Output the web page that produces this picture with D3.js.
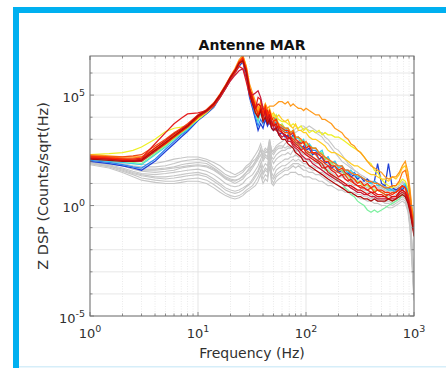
<!DOCTYPE html>
<html><head><meta charset="utf-8">
<script src="https://cdn.jsdelivr.net/npm/d3@7"></script>
<style>body{margin:0;background:#fff}svg{display:block}text{font-family:"DejaVu Sans",sans-serif}</style>
</head><body><svg id="c" width="446" height="370"></svg>
<script>
// Frequencies (Hz)
const freqs = [1,1.5,2,2.5,3, 4,5,6,7,8, 10,12,14,16,18, 20,22,24,26,28, 30,32,34,36,38, 40,42,44,46,48, 50,53,56,60,64, 68,72,76,80,85, 90,95,100,107,115, 123,132,141,150,160, 172,185,200,215,230, 245,260,280,300,320, 345,370,400,430,460, 500,540,580,630,680, 730,780,830,880,920, 950,980,1000];
// log10 of spectral density, grey records
const greySeries = [
 [2.05,2.0,1.9,1.8,1.75, 1.75,1.8,1.9,2.0,2.05, 2.1,2.0,1.8,1.6,1.4, 1.3,1.3,1.4,1.5,1.7, 1.8,2.0,2.1,2.3,2.5, 2.3,2.5,2.4,3.0,2.4, 2.3,2.5,2.6,2.6,2.8, 2.9,3.1,3.2,3.3,3.4, 3.4,3.5,3.5,3.4,3.4, 3.3,3.2,3.1,2.9,2.8, 2.6,2.4,2.2,2.0,1.9, 1.8,1.7,1.6,1.5,1.4, 1.3,1.2,1.1,1.1,1.0, 0.9,0.9,0.8,0.8,0.8, 0.9,1.0,1.0,0.6,-0.2, -1.5,-2.8,-3.8],
 [2.0,1.9,1.8,1.65,1.55, 1.5,1.55,1.6,1.7,1.75, 1.8,1.75,1.6,1.4,1.2, 1.1,1.0,1.1,1.2,1.4, 1.5,1.7,1.9,2.1,2.3, 2.0,2.2,2.1,2.7,2.1, 1.9,2.1,2.2,2.3,2.3, 2.4,2.3,2.5,2.4,2.5, 2.4,2.3,2.3,2.2,2.2, 2.1,2.0,1.9,1.8,1.7, 1.6,1.5,1.5,1.4,1.3, 1.3,1.2,1.1,1.0,1.0, 0.9,0.8,0.8,0.7,0.7, 0.6,0.6,0.5,0.5,0.6, 0.7,0.8,0.7,0.3,-0.5, -1.8,-3.0,-4.0],
 [1.95,1.8,1.65,1.5,1.4, 1.3,1.3,1.35,1.4,1.45, 1.5,1.4,1.2,1.0,0.8, 0.7,0.65,0.7,0.8,0.9, 1.0,1.2,1.4,1.6,1.9, 1.5,1.7,1.6,2.4,1.5, 1.3,1.6,1.7,1.8,1.8, 1.9,2.0,2.1,2.0,2.1, 2.0,1.9,1.9,1.8,1.8, 1.7,1.7,1.6,1.5,1.4, 1.3,1.3,1.2,1.1,1.0, 1.0,0.9,0.8,0.7,0.7, 0.6,0.6,0.5,0.4,0.4, 0.3,0.3,0.3,0.2,0.3, 0.4,0.5,0.4,0.0,-0.8, -2.0,-3.2,-4.1],
 [1.9,1.75,1.55,1.4,1.25, 1.15,1.1,1.1,1.15,1.2, 1.25,1.15,0.95,0.75,0.55, 0.45,0.4,0.45,0.55,0.7, 0.8,0.9,1.1,1.3,1.6, 1.2,1.4,1.3,2.1,1.2, 1.0,1.3,1.4,1.5,1.6, 1.6,1.7,1.8,1.7,1.8, 1.7,1.6,1.6,1.5,1.5, 1.4,1.4,1.3,1.2,1.1, 1.0,1.0,0.9,0.8,0.8, 0.7,0.6,0.6,0.5,0.5, 0.4,0.4,0.3,0.3,0.2, 0.2,0.1,0.1,0.0,0.1, 0.2,0.3,0.2,-0.2,-1.0, -2.2,-3.4,-4.2],
 [2.05,2.0,1.95,1.9,1.85, 1.9,2.0,2.1,2.15,2.2, 2.2,2.1,1.95,1.8,1.6, 1.5,1.4,1.5,1.6,1.8, 1.9,2.1,2.3,2.5,2.8, 2.4,2.6,2.5,3.0,2.5, 2.4,2.6,2.7,2.7,2.6, 2.7,2.6,2.7,2.5,2.5, 2.4,2.4,2.3,2.3,2.2, 2.1,2.1,2.0,1.9,1.8, 1.7,1.6,1.5,1.5,1.4, 1.4,1.3,1.2,1.1,1.1, 1.0,0.9,0.9,0.8,0.8, 0.7,0.7,0.6,0.7,0.7, 0.8,0.9,0.8,0.4,-0.3, -1.6,-2.9,-3.9],
 [1.95,1.85,1.7,1.55,1.45, 1.4,1.45,1.5,1.55,1.6, 1.65,1.55,1.4,1.2,1.0, 0.9,0.85,0.9,1.0,1.2, 1.3,1.4,1.6,1.8,2.1, 1.7,1.9,1.8,2.5,1.8, 1.6,1.8,1.9,2.0,2.1, 2.1,2.2,2.2,2.3,2.2, 2.2,2.1,2.1,2.0,2.0, 1.9,1.9,1.8,1.7,1.6, 1.5,1.4,1.3,1.3,1.2, 1.1,1.0,0.9,0.9,0.8, 0.7,0.7,0.6,0.6,0.5, 0.5,0.4,0.4,0.4,0.5, 0.6,0.7,0.6,0.2,-0.6, -1.9,-3.1,-4.0],
 [1.85,1.7,1.5,1.3,1.15, 1.05,1.0,1.0,1.05,1.1, 1.1,1.0,0.8,0.6,0.45, 0.35,0.3,0.35,0.45,0.6, 0.7,0.8,0.9,1.1,1.4, 1.0,1.2,1.1,1.8,1.0, 0.9,1.1,1.2,1.3,1.4, 1.4,1.5,1.5,1.5,1.4, 1.4,1.3,1.3,1.3,1.2, 1.2,1.1,1.1,1.0,0.9, 0.9,0.8,0.7,0.7,0.6, 0.6,0.5,0.5,0.4,0.3, 0.3,0.2,0.2,0.1,0.1, 0.0,0.0,-0.1,-0.1,0.0, 0.1,0.2,0.1,-0.3,-1.1, -2.4,-3.6,-4.3],
 [2.0,1.95,1.85,1.75,1.65, 1.65,1.7,1.75,1.85,1.9, 1.95,1.9,1.7,1.5,1.3, 1.2,1.15,1.2,1.35,1.5, 1.7,1.8,2.0,2.2,2.5, 2.1,2.3,2.2,2.8,2.2, 2.1,2.3,2.4,2.5,2.5, 2.6,2.6,2.8,2.7,2.8, 2.7,2.6,2.6,2.5,2.4, 2.3,2.3,2.1,2.0,1.9, 1.8,1.7,1.6,1.5,1.5, 1.4,1.3,1.3,1.2,1.1, 1.1,1.0,1.0,0.9,0.9, 0.8,0.8,0.7,0.7,0.8, 0.9,1.1,1.0,0.5,-0.2, -1.5,-2.7,-3.7],
 [1.9,1.8,1.6,1.45,1.35, 1.25,1.2,1.25,1.3,1.35, 1.4,1.3,1.1,0.9,0.7, 0.6,0.55,0.6,0.7,0.85, 0.95,1.1,1.3,1.5,1.8, 1.4,1.6,1.5,2.2,1.3, 1.2,1.4,1.5,1.6,1.7, 1.7,1.8,1.9,1.9,1.9, 1.8,1.8,1.7,1.7,1.6, 1.6,1.5,1.5,1.4,1.3, 1.2,1.1,1.1,1.0,0.9, 0.9,0.8,0.7,0.6,0.6, 0.5,0.5,0.4,0.3,0.3, 0.2,0.2,0.2,0.1,0.2, 0.3,0.4,0.3,-0.1,-0.9, -2.1,-3.2,-4.0],
 [2.0,1.9,1.8,1.7,1.6, 1.6,1.65,1.7,1.75,1.8, 1.85,1.8,1.65,1.45,1.25, 1.15,1.1,1.2,1.3,1.5, 1.6,1.8,2.0,2.2,2.6, 2.2,2.4,2.4,2.9,2.5, 2.5,2.7,2.8,2.9,3.0, 3.1,3.3,3.3,3.5,3.5, 3.6,3.6,3.5,3.6,3.5, 3.4,3.3,3.3,3.1,3.0, 2.8,2.6,2.5,2.3,2.1, 1.9,1.8,1.6,1.5,1.3, 1.2,1.1,1.0,0.9,0.8, 0.8,0.7,0.7,0.6,0.7, 0.8,0.9,0.8,0.4,-0.3, -1.6,-2.9,-3.9]
];
// log10 of spectral density, coloured records
const colorSeries = [
 [2.0,1.9,1.8,1.7,1.6, 2.0,2.45,2.8,3.1,3.35, 3.85,4.15,4.45,4.9,5.3, 5.7,6.0,6.3,6.5,5.8, 4.9,4.4,3.9,3.4,3.7, 3.5,3.9,3.6,3.8,3.5, 3.4,3.6,3.2,3.3,3.1, 3.2,3.0,3.2,2.8,2.9, 2.6,2.7,2.5,2.6,2.3, 2.4,2.1,2.2,1.9,2.0, 1.7,1.8,1.5,1.6,1.4, 1.5,1.3,1.4,1.2,1.3, 1.1,1.2,1.0,1.1,1.9, 1.0,0.9,1.9,0.8,0.7, 0.8,0.7,0.9,0.6,0.3, -0.3,-0.8,-1.1],
 [2.05,1.95,1.85,1.75,1.7, 2.1,2.55,2.9,3.2,3.4, 3.9,4.2,4.5,4.95,5.35, 5.75,6.05,6.4,6.6,5.9, 5.0,4.5,4.0,3.6,3.9, 3.7,4.1,3.8,4.0,3.7, 3.6,3.8,3.4,3.5,3.3, 3.4,3.2,3.3,3.0,3.1, 2.8,2.9,2.6,2.7,2.5, 2.5,2.3,2.4,2.1,2.2, 1.9,2.0,1.7,1.8,1.6, 1.6,1.4,1.5,1.3,1.3, 1.2,1.1,1.0,1.1,1.0, 0.9,0.8,0.8,0.7,0.6, 0.7,0.8,0.9,0.5,0.1, -0.3,-0.7,-1.0],
 [2.1,2.0,1.95,1.9,1.85, 2.3,2.65,3.0,3.25,3.45, 3.9,4.2,4.5,5.0,5.4, 5.8,6.1,6.5,6.7,6.0, 5.1,4.6,4.2,3.8,4.2, 3.9,4.3,4.0,4.2,3.8, 3.8,4.0,3.5,3.6,3.4, 3.5,3.3,3.4,3.0,3.1, 2.9,3.0,2.7,2.8,2.6, 2.6,2.4,2.5,2.1,2.2, 1.9,2.0,1.7,1.8,1.6, 1.5,1.6,1.4,1.3,1.3, 1.2,1.1,1.0,1.1,0.9, 0.9,0.8,0.7,0.7,0.6, 0.8,0.9,1.0,0.7,0.4, 0.0,-0.4,-0.8],
 [2.15,2.05,2.0,1.95,1.9, 2.35,2.7,3.0,3.3,3.5, 3.95,4.3,4.55,5.0,5.4, 5.8,6.1,6.45,6.65,6.1, 5.2,4.7,4.3,3.9,4.3, 4.0,4.3,3.9,4.1,3.7, 3.7,3.9,3.4,3.5,3.3, 3.3,3.1,3.1,2.8,2.8, 2.6,2.6,2.4,2.4,2.2, 2.1,1.9,1.9,1.6,1.6, 1.4,1.3,1.1,1.0,0.8, 0.7,0.5,0.4,0.2,0.1, 0.0,-0.2,-0.3,-0.2,-0.3, -0.2,-0.1,0.0,0.1,0.2, 0.3,0.5,0.4,0.2,0.0, -0.4,-0.7,-1.0],
 [2.2,2.1,2.05,2.0,2.0, 2.4,2.75,3.05,3.3,3.5, 3.9,4.25,4.5,4.95,5.35, 5.75,6.1,6.5,6.75,6.2, 5.3,4.8,4.4,4.0,4.4, 4.1,4.5,4.1,4.3,3.9, 3.9,4.1,3.6,3.7,3.5, 3.5,3.3,3.4,3.1,3.1, 2.9,2.9,2.8,2.7,2.6, 2.6,2.4,2.4,2.1,2.1, 1.9,1.8,1.6,1.6,1.4, 1.4,1.2,1.2,1.1,1.0, 0.9,0.9,0.8,0.7,0.7, 0.6,0.5,0.3,0.2,0.3, 0.5,0.6,0.5,0.3,0.0, -0.3,-0.5,-0.8],
 [2.3,2.35,2.4,2.5,2.65, 3.0,3.35,3.5,3.55,3.6, 3.9,4.2,4.5,4.9,5.3, 5.7,6.0,6.4,6.6,6.0, 5.2,4.8,4.4,4.2,4.5, 4.2,4.5,4.1,4.3,4.0, 4.1,4.0,3.9,3.8,3.8, 3.7,3.6,3.7,3.6,3.5, 3.6,3.4,3.5,3.3,3.4, 3.3,3.4,3.2,3.3,3.2, 3.2,3.1,3.1,3.0,2.9, 2.8,2.7,2.6,2.5,2.4, 2.2,2.0,1.9,1.6,1.5, 1.2,1.0,0.9,0.8,0.9, 1.0,1.2,1.1,0.8,0.4, -0.2,-0.6,-0.9],
 [2.2,2.15,2.1,2.1,2.1, 2.5,2.8,3.1,3.35,3.55, 4.0,4.3,4.6,5.0,5.4, 5.8,6.1,6.5,6.8,6.3, 5.4,5.0,4.6,4.3,4.6, 4.3,4.6,4.2,4.4,4.1, 4.2,4.0,4.1,3.9,3.8, 3.9,3.6,3.5,3.7,3.4, 3.4,3.3,3.3,3.1,3.0, 3.0,2.9,2.8,2.7,2.5, 2.4,2.4,2.3,2.2,2.1, 2.0,1.9,1.8,1.8,1.7, 1.6,1.5,1.4,1.4,1.3, 1.2,1.2,1.1,1.3,1.2, 1.4,1.7,1.8,1.3,0.6, -0.1,-0.5,-0.8],
 [2.3,2.25,2.2,2.2,2.2, 2.55,2.85,3.15,3.4,3.6, 4.0,4.3,4.6,5.05,5.45, 5.85,6.2,6.6,6.8,6.3, 5.5,5.1,4.7,4.4,4.7, 4.4,4.6,4.4,4.5,4.5, 4.5,4.6,4.7,4.7,4.6, 4.7,4.5,4.6,4.5,4.4, 4.4,4.3,4.4,4.3,4.2, 4.1,4.1,3.9,3.9,3.8, 3.7,3.5,3.4,3.3,3.1, 3.0,2.8,2.7,2.5,2.4, 2.2,2.0,1.8,1.7,1.6, 1.5,1.3,1.2,1.3,1.3, 1.5,1.8,2.0,1.5,0.7, 0.0,-0.4,-0.7],
 [2.25,2.2,2.15,2.15,2.2, 2.6,2.9,3.2,3.4,3.6, 4.05,4.3,4.6,5.0,5.4, 5.8,6.1,6.5,6.6,6.1, 5.3,4.9,4.5,4.2,4.5, 4.1,4.4,4.0,4.2,3.9, 4.0,3.8,3.7,3.6,3.5, 3.5,3.3,3.4,3.1,3.1, 3.0,2.8,2.9,2.7,2.6, 2.6,2.4,2.3,2.2,2.1, 2.0,1.9,1.8,1.8,1.6, 1.6,1.5,1.4,1.4,1.3, 1.2,1.1,1.1,1.0,1.0, 0.9,0.8,0.8,0.9,0.9, 1.1,1.5,1.6,1.1,0.4, -0.2,-0.6,-1.0],
 [2.25,2.2,2.2,2.25,2.3, 2.7,3.0,3.3,3.5,3.7, 4.1,4.35,4.65,5.05,5.45, 5.85,6.15,6.5,6.5,6.0, 5.2,4.7,4.2,4.0,4.3, 3.9,4.2,3.8,4.0,3.6, 3.8,3.6,3.5,3.4,3.3, 3.3,3.1,3.0,2.9,2.8, 2.7,2.6,2.5,2.4,2.4, 2.3,2.1,2.0,1.9,1.8, 1.7,1.6,1.5,1.4,1.4, 1.2,1.1,1.0,0.9,0.9, 0.8,0.7,0.8,0.6,0.7, 0.6,0.5,0.5,0.6,0.6, 0.8,0.9,0.8,0.5,0.0, -0.5,-0.9,-1.2],
 [2.2,2.15,2.1,2.1,2.15, 2.8,3.3,3.7,3.95,4.15, 4.2,4.3,4.55,4.9,5.3, 5.7,6.0,6.3,6.2,5.6, 5.0,4.6,4.4,4.9,4.8, 4.3,4.1,4.3,3.9,3.7, 3.7,3.5,3.6,3.3,3.2, 3.0,3.1,2.9,2.8,2.7, 2.5,2.6,2.4,2.3,2.2, 2.1,2.0,1.9,1.7,1.8, 1.6,1.5,1.3,1.4,1.2, 1.1,1.2,1.0,0.9,0.8, 0.8,0.7,0.6,0.6,0.5, 0.5,0.4,0.5,0.4,0.4, 0.6,0.7,0.6,0.3,-0.1, -0.6,-1.0,-1.3],
 [2.15,2.1,2.05,2.0,2.0, 2.45,2.8,3.1,3.35,3.55, 4.0,4.25,4.5,4.9,5.3, 5.65,5.9,6.1,6.2,5.8, 5.2,5.0,5.1,5.2,4.9, 4.4,4.2,4.0,3.7,3.8, 3.5,3.4,3.3,3.1,3.2, 2.9,2.9,2.7,2.6,2.5, 2.3,2.2,2.1,2.1,1.9, 1.8,1.7,1.6,1.5,1.4, 1.3,1.2,1.1,1.0,0.9, 0.9,0.8,0.7,0.6,0.6, 0.5,0.5,0.4,0.4,0.3, 0.3,0.3,0.3,0.3,0.3, 0.5,0.6,0.5,0.2,-0.2, -0.6,-1.0,-1.3],
 [2.2,2.15,2.1,2.05,2.05, 2.5,2.8,3.1,3.35,3.55, 4.0,4.3,4.55,5.0,5.4, 5.8,6.1,6.5,6.7,6.2, 5.3,4.9,4.5,4.1,4.4, 4.2,4.5,4.1,4.3,4.0, 3.8,3.9,3.6,3.5,3.4, 3.4,3.2,3.3,3.0,2.9, 2.8,2.9,2.6,2.7,2.4, 2.4,2.3,2.2,2.0,2.0, 1.8,1.8,1.6,1.7,1.5, 1.4,1.3,1.2,1.0,1.1, 0.9,1.0,0.8,0.9,0.7, 0.7,0.6,0.6,0.5,0.6, 0.7,0.9,0.8,0.4,0.0, -0.4,-0.8,-1.1],
 [2.15,2.1,2.05,2.05,2.1, 2.6,2.95,3.25,3.45,3.65, 4.1,4.3,4.6,5.0,5.4, 5.8,6.1,6.4,6.6,6.1, 5.3,4.8,4.4,4.6,4.5, 4.0,4.3,3.9,4.1,3.8, 3.6,3.7,3.4,3.3,3.2, 3.1,3.0,2.8,2.7,2.6, 2.5,2.4,2.3,2.2,2.1, 2.0,1.9,1.7,1.7,1.5, 1.4,1.3,1.2,1.1,1.0, 0.9,0.9,0.8,0.7,0.7, 0.6,0.5,0.6,0.5,0.4, 0.4,0.4,0.3,0.4,0.4, 0.6,0.7,0.6,0.3,-0.1, -0.5,-0.9,-1.2],
 [2.1,2.05,2.0,2.0,2.05, 2.5,2.85,3.15,3.4,3.6, 4.05,4.3,4.6,5.0,5.4, 5.8,6.1,6.45,6.55,6.0, 5.1,4.6,4.2,4.0,4.3, 3.8,4.0,3.7,3.9,3.5, 3.4,3.5,3.2,3.0,3.0, 2.8,2.7,2.6,2.4,2.3, 2.2,2.0,2.0,1.8,1.7, 1.6,1.5,1.4,1.3,1.2, 1.1,1.0,0.9,0.8,0.7, 0.6,0.6,0.5,0.4,0.4, 0.3,0.3,0.2,0.3,0.2, 0.2,0.2,0.3,0.2,0.3, 0.4,0.5,0.4,0.1,-0.3, -0.7,-1.1,-1.4]
];
const seriesColors = ["#1f3fd6","#2e86f0","#34d2e6","#7ef0a0","#a6ee5a","#eef026","#ffcc22","#ff9a1c","#ff7410","#f24a12","#e41e1e","#c81c3c","#ff2a00","#d81010","#b00a0a"];
const xTicks = [1,10,100,1000];
const xTickExp = ["0","1","2","3"];
const yTicks = [1e-5,1,1e5];
const yTickExp = ["-5","0","5"];
const titleText = "Antenne MAR";
const xLabel = "Frequency (Hz)";
const yLabel = "Z DSP (Counts/sqrt(Hz)";

const svg = d3.select("#c");
// figure frame
svg.append("rect").attr("x",13).attr("y",7).attr("width",433).attr("height",6).attr("fill","#00b0f0");
svg.append("rect").attr("x",13).attr("y",7).attr("width",6).attr("height",361).attr("fill","#00b0f0");
svg.append("rect").attr("x",19).attr("y",366).attr("width",427).attr("height",1.5).attr("fill","#d6eef9");

const L=90,R=414,T=56,B=316;
const x = d3.scaleLog().domain([1,1000]).range([L,R]);
const y = d3.scaleLog().domain([1e-5,Math.pow(10,6.77)]).range([B,T]);

const g = svg.append("g");
const minorX=[]; for(let d=1;d<1000;d*=10) for(let k=2;k<=9;k++) minorX.push(d*k);
g.selectAll(".gxm").data(minorX).join("line").attr("x1",d=>x(d)).attr("x2",d=>x(d)).attr("y1",T).attr("y2",B)
 .attr("stroke","#e4e4e4").attr("stroke-width",0.8).attr("stroke-dasharray","1,1.5");
g.selectAll(".gxM").data(xTicks).join("line").attr("x1",d=>x(d)).attr("x2",d=>x(d)).attr("y1",T).attr("y2",B)
 .attr("stroke","#dedede").attr("stroke-width",0.8);
const decY=[]; for(let e=-5;e<=6;e++) decY.push(Math.pow(10,e));
g.selectAll(".gy").data(decY).join("line").attr("x1",L).attr("x2",R).attr("y1",d=>y(d)).attr("y2",d=>y(d))
 .attr("stroke","#e2e2e2").attr("stroke-width",0.8);

svg.append("clipPath").attr("id","clip").append("rect").attr("x",L).attr("y",T).attr("width",R-L).attr("height",B-T);
const line = d3.line().x((d,i)=>x(freqs[i])).y(d=>y(Math.pow(10,d)));
const cg = svg.append("g").attr("clip-path","url(#clip)");
cg.selectAll(".grey").data(greySeries).join("path").attr("d",line).attr("fill","none")
  .attr("stroke","#c6c6c6").attr("stroke-width",1.1);
cg.selectAll(".col").data(colorSeries).join("path").attr("d",line).attr("fill","none")
  .attr("stroke",(d,i)=>seriesColors[i]).attr("stroke-width",1.25);

const ax = svg.append("g");
ax.append("rect").attr("x",L).attr("y",T).attr("width",R-L).attr("height",B-T).attr("fill","none").attr("stroke","#707070").attr("stroke-width",1);
const tk=(x1,y1,x2,y2)=>ax.append("line").attr("x1",x1).attr("y1",y1).attr("x2",x2).attr("y2",y2).attr("stroke","#707070").attr("stroke-width",0.8);
xTicks.forEach(d=>{tk(x(d),B,x(d),B-4);tk(x(d),T,x(d),T+4);});
minorX.forEach(d=>{tk(x(d),B,x(d),B-2.5);tk(x(d),T,x(d),T+2.5);});
decY.forEach(d=>{const l=yTicks.includes(d)?4:2.5; if(y(d)>=T){tk(L,y(d),L+l,y(d));tk(R,y(d),R-l,y(d));}});

xTicks.forEach((d,i)=>{
  const t=ax.append("text").attr("x",x(d)).attr("y",338).attr("text-anchor","middle").attr("fill","#303030").attr("font-size",13);
  t.append("tspan").text("10");
  t.append("tspan").attr("dy",-6).attr("font-size",9.5).text(xTickExp[i]);
});
yTicks.forEach((d,i)=>{
  const t=ax.append("text").attr("x",L-5).attr("y",y(d)+6.5).attr("text-anchor","end").attr("fill","#303030").attr("font-size",13);
  t.append("tspan").text("10");
  t.append("tspan").attr("dy",-6).attr("font-size",9.5).text(yTickExp[i]);
});
svg.append("text").attr("x",(L+R)/2).attr("y",50).attr("text-anchor","middle").attr("font-weight","bold").attr("font-size",14).attr("fill","#111").text(titleText);
svg.append("text").attr("x",(L+R)/2).attr("y",358).attr("text-anchor","middle").attr("font-size",14).attr("fill","#303030").text(xLabel);
svg.append("text").attr("transform",`translate(48,${(T+B)/2}) rotate(-90)`).attr("text-anchor","middle").attr("font-size",14.5).attr("fill","#303030").text(yLabel);
</script></body></html>
